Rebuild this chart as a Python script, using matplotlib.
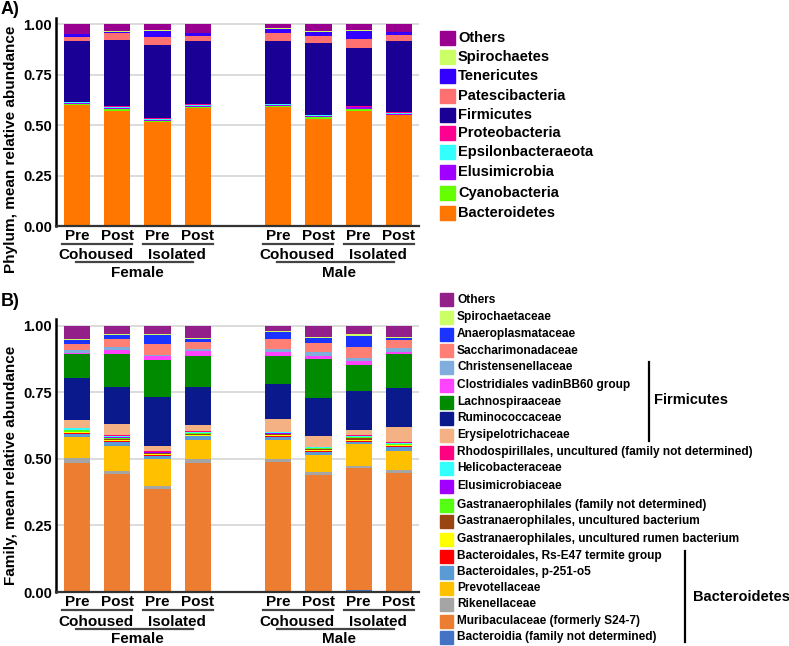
import numpy as np
import matplotlib
matplotlib.use("Agg")
import matplotlib.pyplot as plt
from matplotlib.patches import Rectangle
from matplotlib.lines import Line2D
from matplotlib import transforms

plt.rcParams['font.family'] = ['Liberation Sans', 'DejaVu Sans']
plt.rcParams['font.weight'] = 'bold'

# bar order: Female Cohoused Pre/Post, Female Isolated Pre/Post, Male ... same
timepoints = ["Pre", "Post", "Pre", "Post", "Pre", "Post", "Pre", "Post"]
housing = ["Cohoused", "Isolated", "Cohoused", "Isolated"]
sexes = ["Female", "Male"]

# ---- panel A: phylum, bottom to top ----
phylum_names = ["Bacteroidetes", "Cyanobacteria", "Elusimicrobia", "Epsilonbacteraeota",
                "Proteobacteria", "Firmicutes", "Patescibacteria", "Tenericutes",
                "Spirochaetes", "Others"]
phylum_colors = ["#FF7700", "#66FF00", "#A000FF", "#33FFFF", "#FF0090",
                 "#1A0094", "#FF7070", "#3300FF", "#CCFF66", "#99008F"]
bacteroidetes = [0.597, 0.568, 0.517, 0.586, 0.591, 0.531, 0.571, 0.548]
cyanobacteria = [0.008, 0.012, 0.005, 0.004, 0.004, 0.008, 0.010, 0.004]
elusimicrobia = [0.002, 0.006, 0.002, 0.002, 0.002, 0.006, 0.008, 0.002]
epsilonbact = [0.007, 0.005, 0.008, 0.009, 0.006, 0.003, 0.002, 0.008]
proteobacteria = [0.001, 0.001, 0.001, 0.001, 0.001, 0.001, 0.001, 0.001]
firmicutes = [0.299, 0.327, 0.361, 0.314, 0.312, 0.355, 0.288, 0.354]
patescibacteria = [0.023, 0.035, 0.040, 0.026, 0.038, 0.037, 0.046, 0.030]
tenericutes = [0.012, 0.008, 0.033, 0.012, 0.024, 0.021, 0.041, 0.013]
spirochaetes = [0.003, 0.003, 0.004, 0.003, 0.003, 0.003, 0.005, 0.003]
phylum_others = [0.048, 0.035, 0.029, 0.043, 0.019, 0.035, 0.028, 0.037]
phylum_data = [bacteroidetes, cyanobacteria, elusimicrobia, epsilonbact, proteobacteria,
               firmicutes, patescibacteria, tenericutes, spirochaetes, phylum_others]

# ---- panel B: family, bottom to top ----
family_names = ["Bacteroidia (family not determined)", "Muribaculaceae (formerly S24-7)",
                "Rikenellaceae", "Prevotellaceae", "Bacteroidales, p-251-o5",
                "Bacteroidales, Rs-E47 termite group",
                "Gastranaerophilales, uncultured rumen bacterium",
                "Gastranaerophilales, uncultured bacterium",
                "Gastranaerophilales (family not determined)", "Elusimicrobiaceae",
                "Helicobacteraceae", "Rhodospirillales, uncultured (family not determined)",
                "Erysipelotrichaceae", "Ruminococcaceae", "Lachnospiraaceae",
                "Clostridiales vadinBB60 group", "Christensenellaceae",
                "Saccharimonadaceae", "Anaeroplasmataceae", "Spirochaetaceae", "Others"]
family_colors = ["#4472C4", "#ED7D31", "#A5A5A5", "#FFC000", "#5B9BD5", "#FF0000",
                 "#FFFF00", "#994411", "#55FF11", "#A000FF", "#33FFFF", "#FF0080",
                 "#F4B183", "#0A198C", "#008B00", "#FF44FF", "#7FAEDC", "#FF7F75",
                 "#1A33FF", "#CCFF66", "#93208A"]
bacteroidia_nd = [0.003, 0.002, 0.004, 0.002, 0.002, 0.003, 0.008, 0.004]
muribaculaceae = [0.483, 0.442, 0.384, 0.484, 0.487, 0.438, 0.459, 0.445]
rikenellaceae = [0.017, 0.012, 0.009, 0.013, 0.011, 0.010, 0.008, 0.010]
prevotellaceae = [0.081, 0.092, 0.104, 0.072, 0.071, 0.064, 0.081, 0.072]
p251o5 = [0.009, 0.017, 0.012, 0.015, 0.013, 0.013, 0.009, 0.015]
rse47 = [0.005, 0.003, 0.003, 0.002, 0.003, 0.002, 0.004, 0.002]
gastr_rumen = [0.002, 0.004, 0.002, 0.003, 0.002, 0.004, 0.004, 0.003]
gastr_uncult = [0.003, 0.004, 0.003, 0.003, 0.004, 0.003, 0.004, 0.002]
gastr_nd = [0.004, 0.004, 0.003, 0.003, 0.002, 0.003, 0.004, 0.002]
elusimicrobiaceae = [0.002, 0.002, 0.001, 0.001, 0.001, 0.001, 0.001, 0.001]
helicobacteraceae = [0.006, 0.006, 0.003, 0.004, 0.004, 0.003, 0.006, 0.005]
rhodospirillales = [0.003, 0.002, 0.001, 0.002, 0.001, 0.001, 0.001, 0.002]
erysipelotrichaceae = [0.029, 0.040, 0.020, 0.024, 0.049, 0.041, 0.021, 0.056]
ruminococcaceae = [0.156, 0.140, 0.182, 0.143, 0.131, 0.142, 0.146, 0.147]
lachnospiraceae = [0.092, 0.125, 0.141, 0.116, 0.107, 0.147, 0.097, 0.128]
vadinbb60 = [0.005, 0.015, 0.014, 0.020, 0.013, 0.012, 0.017, 0.007]
christensenellaceae = [0.009, 0.011, 0.006, 0.008, 0.013, 0.015, 0.010, 0.015]
saccharimonadaceae = [0.022, 0.030, 0.039, 0.025, 0.037, 0.035, 0.042, 0.030]
anaeroplasmataceae = [0.015, 0.015, 0.035, 0.011, 0.026, 0.019, 0.040, 0.009]
spirochaetaceae = [0.004, 0.004, 0.004, 0.004, 0.004, 0.004, 0.006, 0.005]
family_others = [0.050, 0.030, 0.030, 0.045, 0.019, 0.040, 0.032, 0.040]
family_data = [bacteroidia_nd, muribaculaceae, rikenellaceae, prevotellaceae, p251o5,
               rse47, gastr_rumen, gastr_uncult, gastr_nd, elusimicrobiaceae,
               helicobacteraceae, rhodospirillales, erysipelotrichaceae, ruminococcaceae,
               lachnospiraceae, vadinbb60, christensenellaceae, saccharimonadaceae,
               anaeroplasmataceae, spirochaetaceae, family_others]

W, H = 789, 646
positions = np.array([1, 2, 3, 4, 6, 7, 8, 9])

fig = plt.figure(figsize=(W / 100, H / 100), dpi=100)


def fx(p):
    return p / W


def fy(p):
    return 1 - p / H


def draw_panel(top, bottom, ymax, data, colors, ylabel, ylabel_y, letter, letter_y, below):
    ax = fig.add_axes([fx(56), fy(bottom), fx(419 - 56), (bottom - top) / H])
    base = np.zeros(len(positions))
    for vals, col in zip(data, colors):
        ax.bar(positions, vals, width=0.65, bottom=base, color=col, linewidth=0, zorder=2)
        base = base + np.array(vals)
    ax.set_xlim(0.475, 9.5)
    ax.set_ylim(0, ymax)
    ax.set_yticks([0, 0.25, 0.5, 0.75, 1.0])
    ax.set_yticklabels(["0.00", "0.25", "0.50", "0.75", "1.00"], fontsize=10.5,
                       fontweight='bold')
    ax.set_xticks([])
    ax.tick_params(axis='y', length=0, pad=3)
    for yv in [0.25, 0.5, 0.75, 1.0]:
        ax.axhline(yv, color="#D9D9D9", lw=1.3, zorder=1)
    for s in ["top", "right"]:
        ax.spines[s].set_visible(False)
    ax.spines["left"].set_linewidth(1.8)
    ax.spines["left"].set_color("black")
    ax.spines["bottom"].set_linewidth(1.6)
    ax.spines["bottom"].set_color("#333333")

    fig.text(fx(11), fy(ylabel_y), ylabel, rotation=90, ha='center', va='center',
             fontsize=11, fontweight='bold')
    fig.text(fx(1), fy(letter_y), letter, ha='left', va='center', fontsize=13, fontweight='bold')

    tr = transforms.blended_transform_factory(ax.transData, fig.transFigure)
    y_tp, y_l1, y_h, y_l2, y_s = below
    for p, t in zip(positions, timepoints):
        fig.text(p, fy(y_tp), t, transform=tr, ha='center', va='center', fontsize=11,
                 fontweight='bold')
    for i, h in enumerate(housing):
        p = positions[2 * i]
        fig.add_artist(Line2D([p - 0.37, p + 1.37], [fy(y_l1), fy(y_l1)], transform=tr,
                              color="#444444", lw=1.6))
        fig.text(p + 0.47, fy(y_h), h, transform=tr, ha='center', va='center', fontsize=11,
                 fontweight='bold')
    for i, s in enumerate(sexes):
        p = positions[4 * i]
        fig.add_artist(Line2D([p - 0.02, p + 2.88], [fy(y_l2), fy(y_l2)], transform=tr,
                              color="#444444", lw=1.6))
        fig.text(p + 1.5, fy(y_s), s, transform=tr, ha='center', va='center', fontsize=11,
                 fontweight='bold')
    return ax


draw_panel(18, 226, 1.03, phylum_data, phylum_colors, "Phylum, mean relative abundance", 149,
           "A)", 10, (236, 243.5, 255, 262, 273))
draw_panel(319, 592, 1.026, family_data, family_colors, "Family, mean relative abundance", 465,
           "B)", 301, (602, 610, 622, 629, 639))

# legend A
leg_a_y = [38, 57, 76, 96, 115, 133, 152, 172, 193, 213]
for name, col, yc in zip(phylum_names[::-1], phylum_colors[::-1], leg_a_y):
    fig.add_artist(Rectangle((fx(440), fy(yc + 7)), fx(15), 14 / H, color=col,
                             transform=fig.transFigure))
    fig.text(fx(458), fy(yc), name, ha='left', va='center', fontsize=10.5, fontweight='bold')

# legend B
leg_b_y = [300, 317, 334, 351, 367, 385, 402, 418, 435, 452, 468, 486, 505, 521, 539,
           556, 572, 588, 604, 621, 637]
for name, col, yc in zip(family_names[::-1], family_colors[::-1], leg_b_y):
    fig.add_artist(Rectangle((fx(440), fy(yc + 6.5)), fx(13), 13 / H, color=col,
                             transform=fig.transFigure))
    fig.text(fx(457), fy(yc), name, ha='left', va='center', fontsize=8.6, fontweight='bold')

# group brackets
fig.add_artist(Line2D([fx(649), fx(649)], [fy(362), fy(441)], color='black', lw=1.6))
fig.text(fx(654), fy(400), "Firmicutes", ha='left', va='center', fontsize=10.5,
         fontweight='bold')
fig.add_artist(Line2D([fx(685), fx(685)], [fy(551), fy(642)], color='black', lw=1.6))
fig.text(fx(693), fy(597), "Bacteroidetes", ha='left', va='center', fontsize=10.5,
         fontweight='bold')

fig.savefig("out.png", dpi=100)
